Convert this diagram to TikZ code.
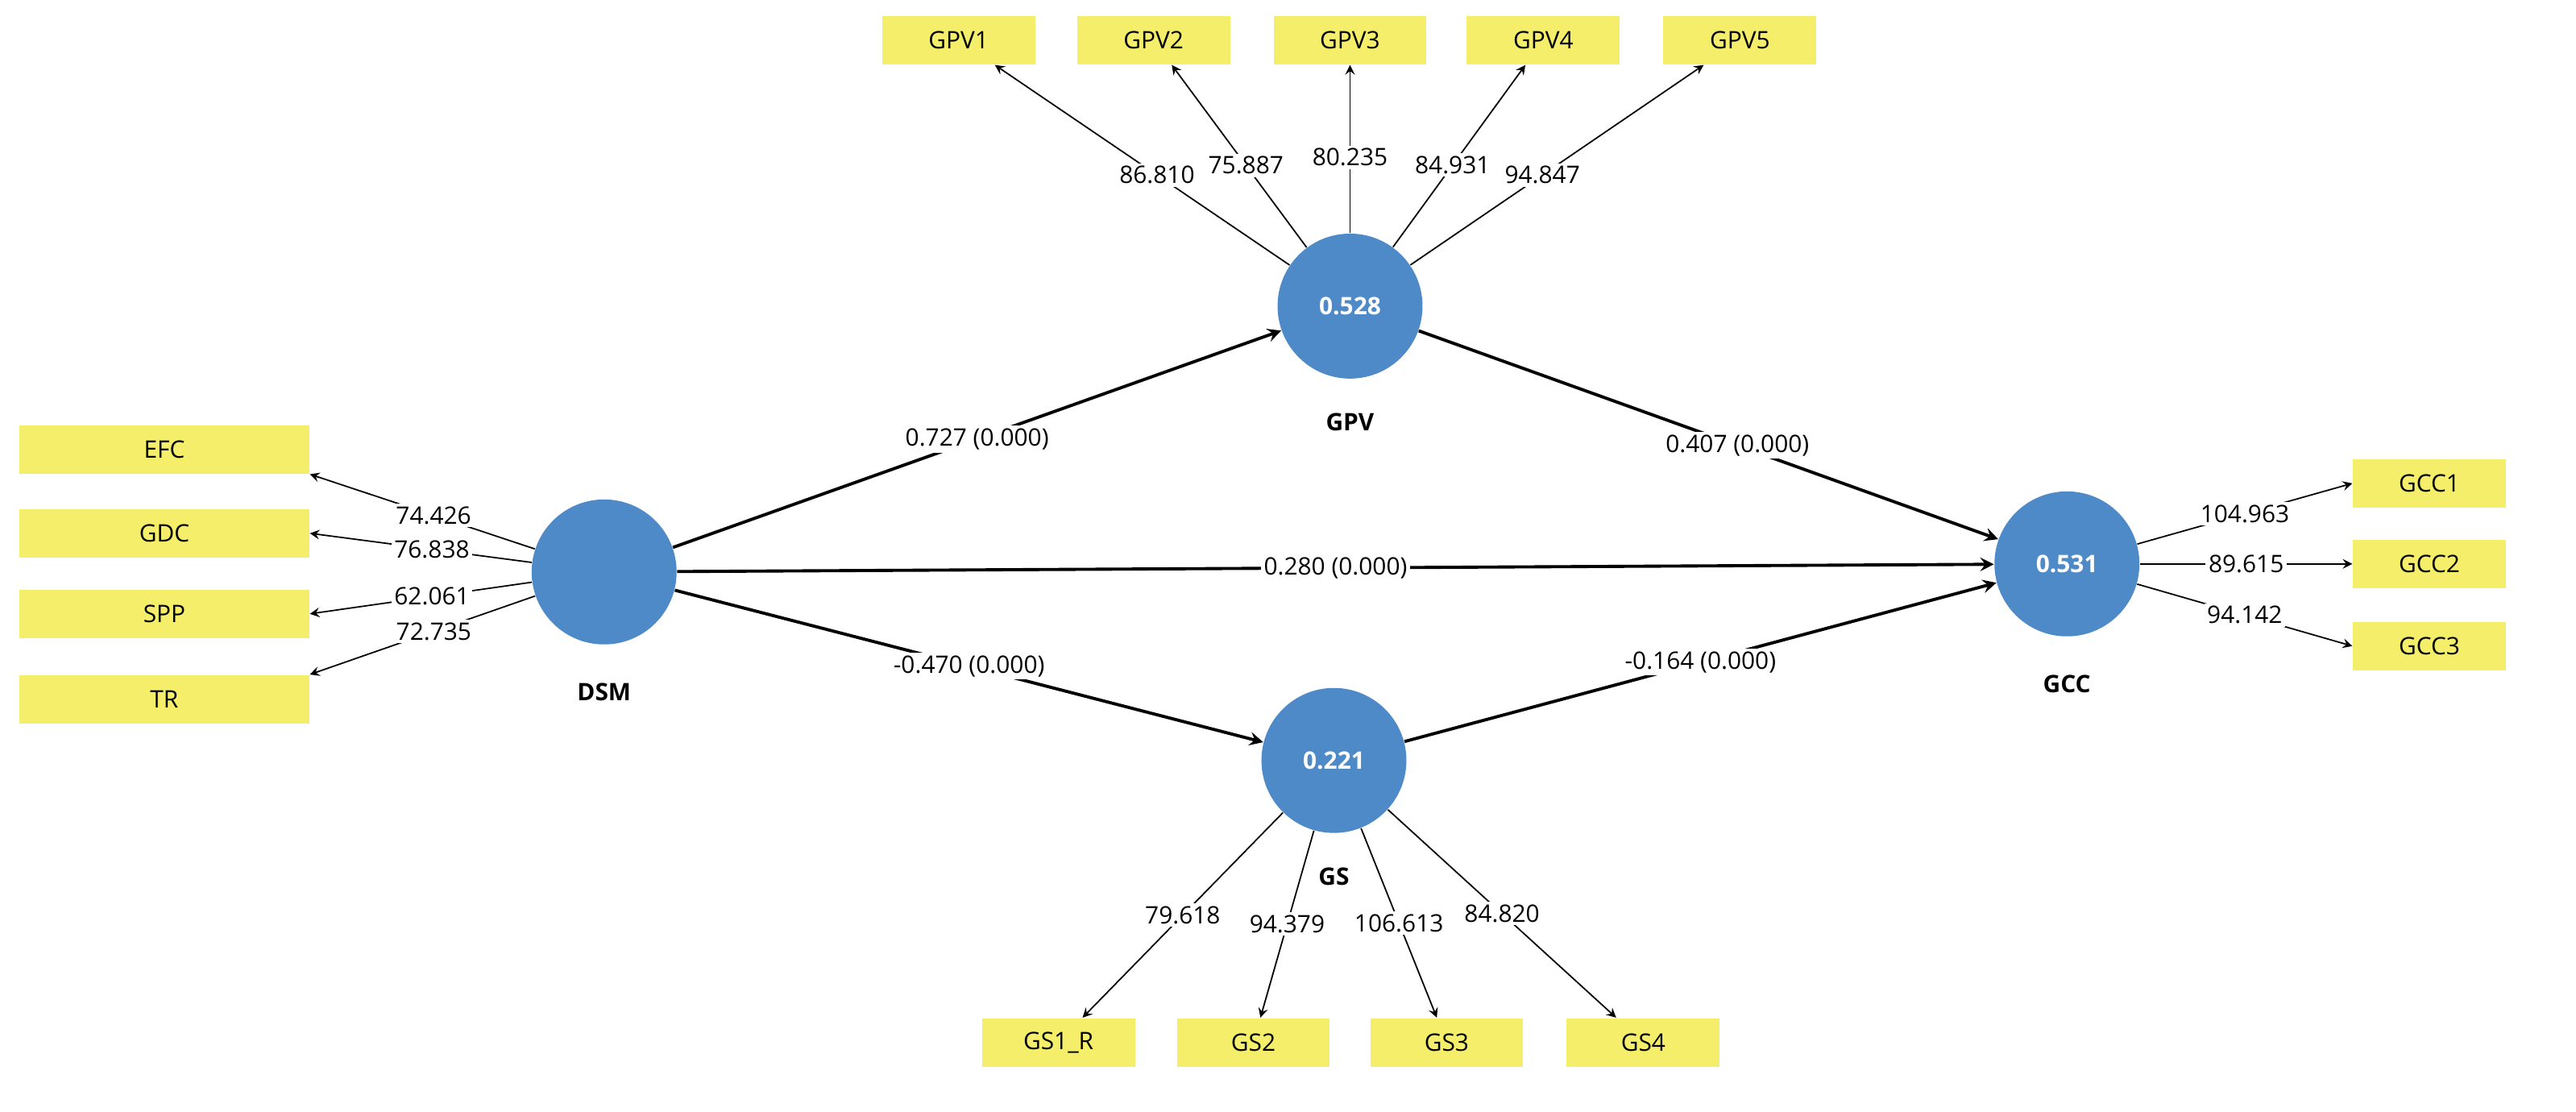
\documentclass[tikz,border=0pt]{standalone}
\usepackage{fontspec}
\setmainfont{Open Sans}
\usetikzlibrary{arrows,positioning}
\definecolor{lvblue}{HTML}{4E8AC8}
\definecolor{indyellow}{HTML}{F4EE6A}
\tikzstyle{latent} = [circle, fill=lvblue, minimum size=1.8cm, text=white, font=\fontsize{8.5}{9}\selectfont\bfseries]
\tikzstyle{indicator} = [rectangle, fill=indyellow, minimum width=1.9cm, minimum height=0.6cm, font=\fontsize{8.5}{9}\selectfont]
\tikzstyle{path} = [line width=1.1pt,->,>=stealth]
\tikzstyle{load} = [line width=0.5pt,->,>=stealth, shorten >=0pt, arrows={->[scale=1.6]}]
\tikzset{val/.style={fill=white, inner sep=1pt, font=\fontsize{8.5}{9}\selectfont}, lvname/.style={font=\fontsize{8.5}{9}\selectfont\bfseries}}

\begin{document}
\begin{tikzpicture}[x=0.02cm,y=-0.02cm]
    \useasboundingbox (0,0) rectangle (1599,690);

    % latent variables
    \node [latent] (dsm) at (375,355) {};
    \node [latent] (gpv) at (838,190) {0.528};
    \node [latent] (gs) at (828,472) {0.221};
    \node [latent] (gcc) at (1283,350) {0.531};
    \node [lvname, below=0.35cm of dsm] (dsmlabel) {DSM};
    \node [lvname, below=0.3cm of gpv] (gpvlabel) {GPV};
    \node [lvname, below=0.3cm of gs] (gslabel) {GS};
    \node [lvname, below=0.35cm of gcc] (gcclabel) {GCC};

    % indicators
    \node [indicator, minimum width=3.6cm] (efc) at (102,279) {EFC};
    \node [indicator, minimum width=3.6cm] (gdc) at (102,331) {GDC};
    \node [indicator, minimum width=3.6cm] (spp) at (102,381) {SPP};
    \node [indicator, minimum width=3.6cm] (tr) at (102,434) {TR};
    \node [indicator] (gpv1) at (595,25) {GPV1};
    \node [indicator] (gpv2) at (716,25) {GPV2};
    \node [indicator] (gpv3) at (838,25) {GPV3};
    \node [indicator] (gpv4) at (958,25) {GPV4};
    \node [indicator] (gpv5) at (1080,25) {GPV5};
    \node [indicator] (gs1) at (657,647) {GS1\_R};
    \node [indicator] (gs2) at (778,647) {GS2};
    \node [indicator] (gs3) at (898,647) {GS3};
    \node [indicator] (gs4) at (1020,647) {GS4};
    \node [indicator] (gcc1) at (1508,300) {GCC1};
    \node [indicator] (gcc2) at (1508,350) {GCC2};
    \node [indicator] (gcc3) at (1508,401) {GCC3};

    % structural paths
    \draw [path] (dsm) -- node [val, pos=0.5] {0.727 (0.000)} (gpv);
    \draw [path] (dsm) -- node [val, pos=0.5] {0.280 (0.000)} (gcc);
    \draw [path] (dsm) -- node [val, pos=0.5] {-0.470 (0.000)} (gs);
    \draw [path] (gpv) -- node [val, pos=0.55] {0.407 (0.000)} (gcc);
    \draw [path] (gs) -- node [val, pos=0.5] {-0.164 (0.000)} (gcc);

    % loadings
    \draw [load] (dsm) -- node [val, pos=0.45] {74.426} (efc.south east);
    \draw [load] (dsm) -- node [val, pos=0.45] {76.838} (gdc.east);
    \draw [load] (dsm) -- node [val, pos=0.45] {62.061} (spp.east);
    \draw [load] (dsm) -- node [val, pos=0.45] {72.735} (tr.north east);
    \draw [load] (gpv) -- node [val, pos=0.45] {86.810} (gpv1);
    \draw [load] (gpv) -- node [val, pos=0.45] {75.887} (gpv2);
    \draw [load] (gpv) -- node [val, pos=0.45] {80.235} (gpv3);
    \draw [load] (gpv) -- node [val, pos=0.45] {84.931} (gpv4);
    \draw [load] (gpv) -- node [val, pos=0.45] {94.847} (gpv5);
    \draw [load] (gs) -- node [val, pos=0.5] {79.618} (gs1);
    \draw [load] (gs) -- node [val, pos=0.5] {94.379} (gs2);
    \draw [load] (gs) -- node [val, pos=0.5] {106.613} (gs3);
    \draw [load] (gs) -- node [val, pos=0.5] {84.820} (gs4);
    \draw [load] (gcc) -- node [val, pos=0.5] {104.963} (gcc1.west);
    \draw [load] (gcc) -- node [val, pos=0.5] {89.615} (gcc2);
    \draw [load] (gcc) -- node [val, pos=0.5] {94.142} (gcc3.west);
\end{tikzpicture}
\end{document}
